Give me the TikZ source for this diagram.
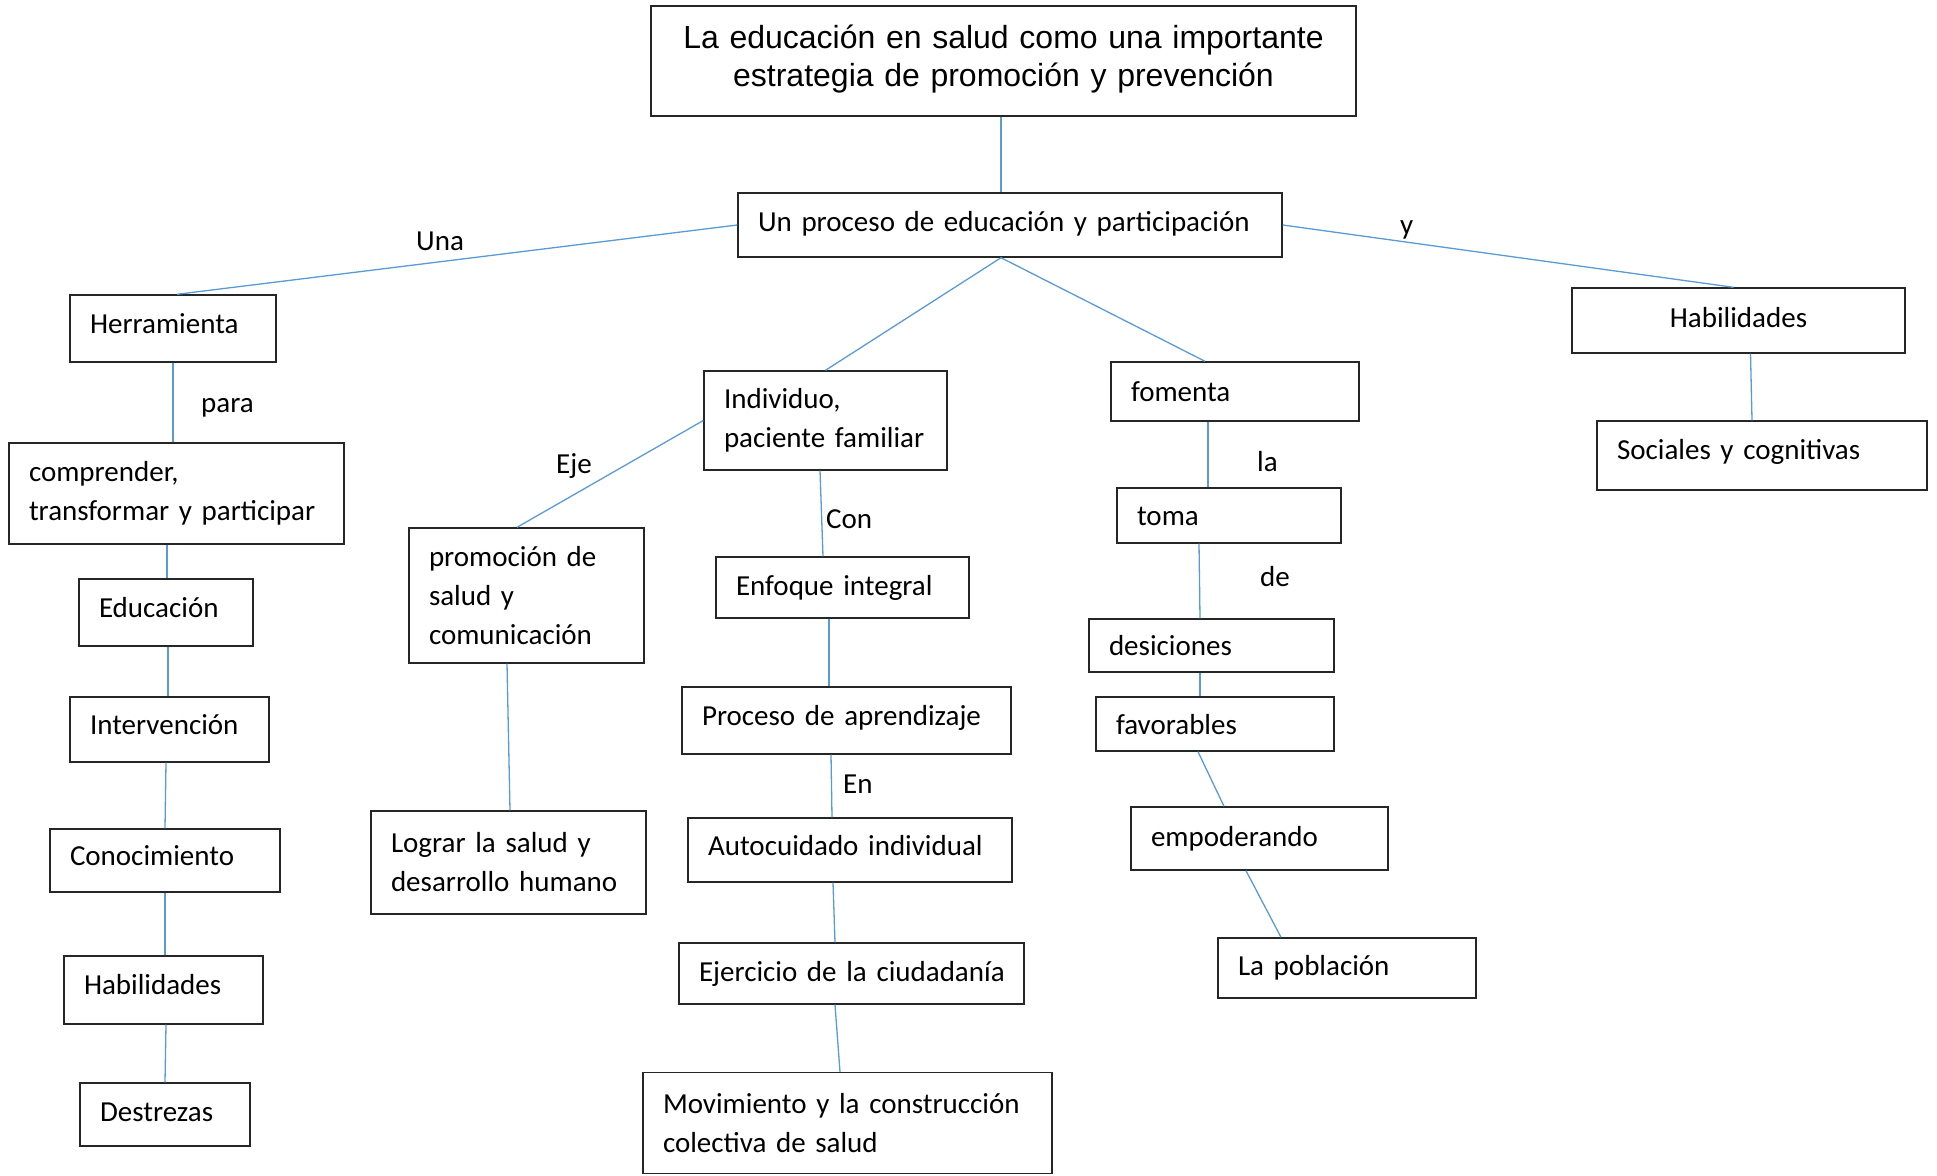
\documentclass[tikz,border=0pt]{standalone}
\usepackage{fontspec}
\setmainfont{Carlito}[WordSpace=0.85]
\newfontfamily\titlefont{Liberation Sans}
\definecolor{conn}{RGB}{91,155,213}
\begin{document}
\begin{tikzpicture}[x=1pt,y=-1pt,
  bx/.style={draw=black!85, line width=1.4pt, rectangle, inner xsep=20pt, inner ysep=0pt, align=left, font=\fontsize{29pt}{39pt}\selectfont},
  one/.style={text height=20pt, text depth=12pt},
  oneA/.style={text height=26pt, text depth=6pt},
  oneB/.style={text height=23pt, text depth=8pt},
  oneC/.style={text height=22pt, text depth=9pt},
  oneD/.style={text height=21pt, text depth=11pt},
  lbl/.style={anchor=base west, inner sep=0pt, font=\fontsize{29pt}{39pt}\selectfont},
  cn/.style={draw=conn, line width=1.3pt}]
\useasboundingbox (0,0) rectangle (1937,1175);
\fill[white] (0,0) rectangle (1937,1175);

% boxes
\node[bx, align=center, text width=665pt, minimum height=110pt, text height=20pt, text depth=45pt, font=\titlefont\fontsize{32pt}{38pt}\selectfont] (title) at (1003.5,61) {La educación en salud como una importante\\ estrategia de promoción y prevención};
\node[bx, oneC, text width=504pt, minimum height=64pt] (proc) at (1010,225) {Un proceso de educación y participación};
\node[bx, oneD, text width=166pt, minimum height=67pt] (herr) at (173,328.5) {Herramienta};
\node[bx, text width=295pt, minimum height=101pt] (comp) at (176.5,493.5) {comprender,\\ \mbox{transformar y participar}};
\node[bx, oneD, text width=134pt, minimum height=67pt] (edu) at (166,612.5) {Educación};
\node[bx, oneD, text width=159pt, minimum height=65pt] (inter) at (169.5,729.5) {Intervención};
\node[bx, oneD, text width=190pt, minimum height=63pt] (conoc) at (165,860.5) {Conocimiento};
\node[bx, one, text width=159pt, minimum height=68pt] (habL) at (163.5,990) {Habilidades};
\node[bx, oneC, text width=130pt, minimum height=63pt] (dest) at (165,1114.5) {Destrezas};
\node[bx, text width=195pt, minimum height=135pt] (prom) at (526.5,595.5) {promoción de\\ salud y\\ comunicación};
\node[bx, text width=235pt, minimum height=103pt] (logr) at (508.5,862.5) {\mbox{Lograr la salud y}\\ \mbox{desarrollo humano}};
\node[bx, text width=203pt, minimum height=99pt] (indiv) at (825.5,420.5) {Individuo,\\ \mbox{paciente familiar}};
\node[bx, oneB, text width=213pt, minimum height=61pt] (enf) at (842.5,587.5) {\mbox{Enfoque integral}};
\node[bx, oneD, text width=289pt, minimum height=67pt] (apr) at (846.5,720.5) {\mbox{Proceso de aprendizaje}};
\node[bx, oneD, text width=284pt, minimum height=64pt] (auto) at (850,850) {\mbox{Autocuidado individual}};
\node[bx, oneB, text width=305pt, minimum height=61pt] (ejer) at (851.5,973.5) {\mbox{Ejercicio de la ciudadanía}};
\node[bx, text width=369pt, minimum height=101pt] (mov) at (847.5,1123) {\mbox{Movimiento y la construcción}\\ \mbox{colectiva de salud}};
\node[bx, oneA, text width=208pt, minimum height=59pt] (fom) at (1235,391.5) {fomenta};
\node[bx, oneA, text width=184pt, minimum height=55pt] (toma) at (1229,515.5) {toma};
\node[bx, oneA, text width=205pt, minimum height=53pt] (des) at (1211.5,645.5) {desiciones};
\node[bx, oneA, text width=198pt, minimum height=54pt] (fav) at (1215,724) {favorables};
\node[bx, oneB, text width=217pt, minimum height=63pt] (emp) at (1259.5,838.5) {empoderando};
\node[bx, oneB, text width=218pt, minimum height=60pt] (pob) at (1347,968) {La población};
\node[bx, oneC, align=center, text width=293pt, minimum height=65pt] (habR) at (1738.5,320.5) {Habilidades};
\node[bx, one, text width=290pt, minimum height=69pt] (soc) at (1762,455.5) {\mbox{Sociales y cognitivas}};

% connectors
\draw[cn] ([xshift=-2.5pt]title.south) -- ([xshift=-9pt]proc.north);
\draw[cn] (proc.west) -- ([xshift=4pt]herr.north);
\draw[cn] (proc.east) -- ([xshift=-5pt]habR.north);
\draw[cn] ([xshift=-9pt]proc.south) -- (indiv.north);
\draw[cn] ([xshift=-9pt]proc.south) -- ([xshift=-30pt]fom.north);
\draw[cn] ([xshift=12pt]habR.south) -- ([xshift=-10pt]soc.north);
\draw[cn] (herr.south) -- (herr.south |- comp.north);
\draw[cn] ([xshift=1pt]edu.north |- comp.south) -- ([xshift=1pt]edu.north);
\draw[cn] ([xshift=2pt]edu.south) -- ([xshift=-1.5pt]inter.north);
\draw[cn] ([xshift=-3.5pt]inter.south) -- (conoc.north);
\draw[cn] (conoc.south) -- ([xshift=1.5pt]habL.north);
\draw[cn] ([xshift=2.5pt]habL.south) -- (dest.north);
\draw[cn] (indiv.west) -- ([xshift=-9.5pt]prom.north);
\draw[cn] ([xshift=-19.5pt]prom.south) -- ([xshift=1.5pt]logr.north);
\draw[cn] ([xshift=-5.5pt]indiv.south) -- ([xshift=-19.5pt]enf.north);
\draw[cn] ([xshift=-13.5pt]enf.south) -- ([xshift=-17.5pt]apr.north);
\draw[cn] ([xshift=-15.5pt]apr.south) -- ([xshift=-18pt]auto.north);
\draw[cn] ([xshift=-17pt]auto.south) -- ([xshift=-16.5pt]ejer.north);
\draw[cn] ([xshift=-16.5pt]ejer.south) -- ([xshift=-7.5pt]mov.north);
\draw[cn] ([xshift=-27pt]fom.south) -- ([xshift=-21pt]toma.north);
\draw[cn] ([xshift=-30pt]toma.south) -- ([xshift=-11.5pt]des.north);
\draw[cn] ([xshift=-11.5pt]des.south) -- ([xshift=-15pt]fav.north);
\draw[cn] ([xshift=-17pt]fav.south) -- ([xshift=-35.5pt]emp.north);
\draw[cn] ([xshift=-13.5pt]emp.south) -- ([xshift=-66pt]pob.north);

% connector labels
\node[lbl] (lUna) at (416,250) {Una};
\node[lbl] (lpara) at (201,412) {para};
\node[lbl] (lEje) at (556,473) {Eje};
\node[lbl] (ly) at (1400,234) {y};
\node[lbl] (lCon) at (826,528) {Con};
\node[lbl] (lla) at (1257,471) {la};
\node[lbl] (lde) at (1260,586) {de};
\node[lbl] (lEn) at (843,793) {En};
\end{tikzpicture}
\end{document}
